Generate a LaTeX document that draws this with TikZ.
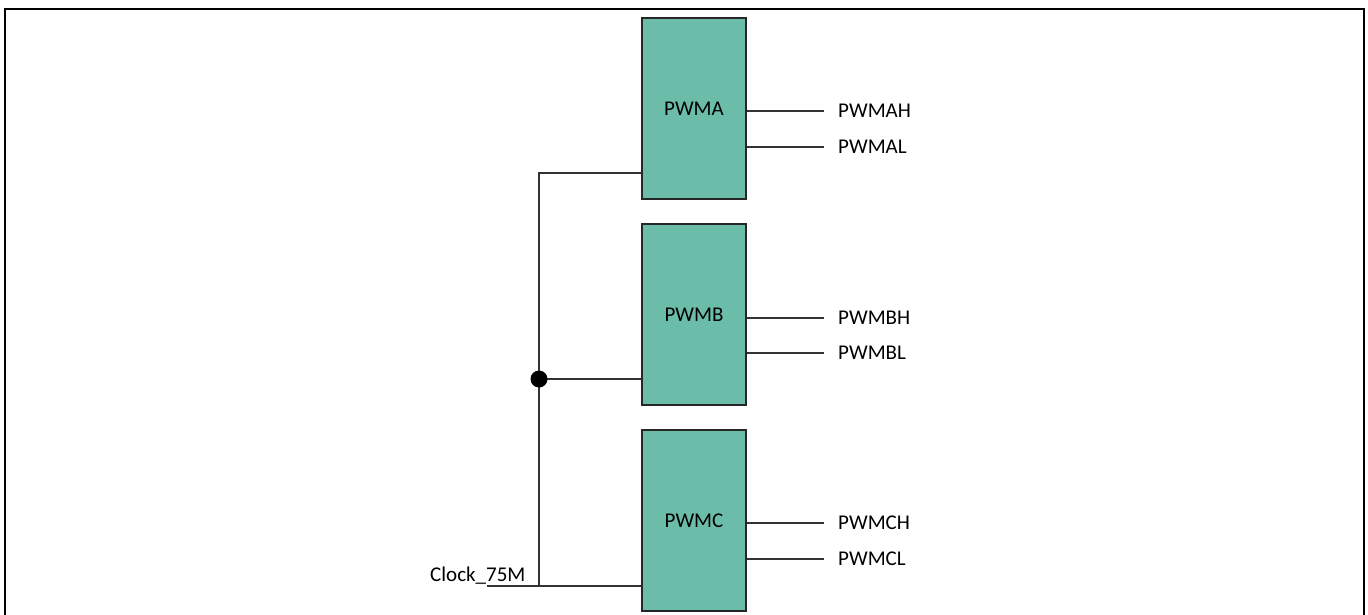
\documentclass[tikz,border=0pt]{standalone}
\usepackage{fontspec}
\setmainfont{Carlito}
\begin{document}
\begin{tikzpicture}[x=1pt,y=-1pt,
  blk/.style={draw=black!85,line width=1.2pt,fill=boxfill,minimum width=104pt,minimum height=181pt,inner sep=0pt,font=\fontsize{21}{25}\selectfont},
  sig/.style={anchor=west,inner sep=0pt,font=\fontsize{21}{25}\selectfont},
  wire/.style={draw=black!80,line width=1.2pt}]
\definecolor{boxfill}{HTML}{6BBDAA}
\useasboundingbox (0,0) rectangle (1368,615);
\draw[line width=2.2pt] (5,640) -- (5,9) -- (1364,9) -- (1364,640);
\node[blk] (A) at (694,108.5) {PWMA};
\node[blk] (B) at (694,314.5) {PWMB};
\node[blk] (C) at (694,520.5) {PWMC};
% outputs
\foreach \n/\y/\t in {A/111/PWMAH,A/147/PWMAL,B/318/PWMBH,B/353/PWMBL,C/523/PWMCH,C/559/PWMCL}{
  \coordinate (e\t) at (824,\y);
  \node[sig] (l\t) at (838,\y) {\t};
  \draw[wire] (\n.east |- e\t) -- (e\t);
}
% clock
\coordinate (cs) at (487,586);
\coordinate (top) at (539,173);
\coordinate (bot) at (539,586);
\coordinate (j) at (539,379);
\node[anchor=base west,inner sep=0pt,font=\fontsize{21}{25}\selectfont] (clk) at (430,581) {Clock\_75M};
\draw[wire] (cs) -- (C.west |- cs);
\draw[wire] (bot) -- (top) -- (A.west |- top);
\draw[wire] (j) -- (B.west |- j);
\node[circle,fill=black,inner sep=0pt,minimum size=17pt] (dot) at (j) {};
\end{tikzpicture}
\end{document}
